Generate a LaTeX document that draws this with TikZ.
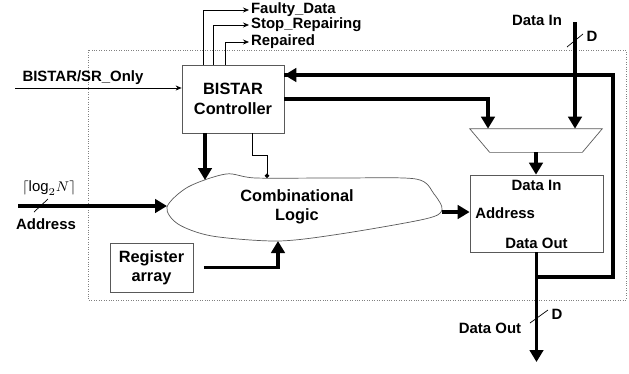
\documentclass[tikz,border=0pt]{standalone}
\usepackage{fontspec}
\setmainfont{Liberation Sans}
\usetikzlibrary{arrows.meta,positioning}

\tikzset{
	blk/.style={draw=black!65, thin, align=center, inner sep=1pt, font=\bfseries\fontsize{9.3}{11}\selectfont},
	lbl/.style={inner sep=1pt, font=\bfseries\fontsize{8.5}{9}\selectfont},
	bus/.style={line width=2.2pt, -{Triangle[length=0.24cm,width=0.27cm]}},
	busline/.style={line width=2.2pt},
	sig/.style={thin, -{Stealth[length=0.12cm,width=0.1cm]}},
	slash/.style={thin}
}

\begin{document}
\begin{tikzpicture}[x=0.02cm,y=-0.02cm]
			\useasboundingbox (0,0) rectangle (629,373);
			
			% Dotted chip boundary
			\draw[densely dotted, black!50] (88,50) rectangle (626,300);
			
			% Define the blocks
			\node[blk, minimum width=2.04cm, minimum height=1.36cm] (ctrl) at (233,99) {BISTAR\\Controller};
			\node[blk, minimum width=1.66cm, minimum height=0.98cm] (regarr) at (151.5,267.5) {Register\\array};
			\node[blk, minimum width=2.66cm, minimum height=1.54cm] (mem) at (536.5,213.5) {};
			\node[minimum width=2.64cm, minimum height=0.46cm, inner sep=0pt] (mux) at (536,140.5) {};
			\draw[black!65, thin] (mux.north west) -- (mux.north east) -- ([xshift=-0.4cm]mux.south east)
				-- ([xshift=0.4cm]mux.south west) -- cycle;
			
			% Memory ports
			\node[lbl, below=2pt of mem.north] (memdin) {Data In};
			\node[lbl, anchor=west] (memaddr) at ([xshift=2pt]mem.west) {Address};
			\node[lbl, above=1pt of mem.south] (memdout) {Data Out};
			
			% Combinational logic blob
			\draw[black!65, thin] plot[smooth cycle, tension=0.5] coordinates {(167,207) (188,187) (226,174) (256,178) (340,178) (416,179) (434,194) (442,210) (425,219) (340,234) (278,241) (212,236) (178,224)};
			\node[align=center, font=\bfseries\fontsize{9.3}{11}\selectfont] (logic) at (297,207) {Combinational\\Logic};
			\coordinate (lgin) at (167,206);
			\coordinate (lgout) at (442,212);
			\coordinate (lgtop) at (267,178);
			\coordinate (lgbot) at (278,241);
			
			% Controller status outputs
			\foreach \x/\y/\n/\t in {203/10/fd/Faulty\_Data, 213/25/sr/Stop\_Repairing, 225/42/rp/Repaired}
			{
				\node[lbl, anchor=west] (\n) at (249,\y) {\t};
				\draw[sig] (ctrl.north -| \x,0) |- (\n.west);
			}
			
			% Mode input
			\node[lbl] (srlbl) at (83,78) {BISTAR/SR\_Only};
			\coordinate (srin) at (15,88);
			\draw[sig] (srin) -- (ctrl.west |- srin);
			
			% Address input
			\node[lbl] (loglbl) at (49,188) {$\lceil\log_2\!N\rceil$};
			\node[lbl] (addrlbl) at (46,224) {Address};
			\coordinate (addrin) at (18,206);
			\draw[bus] (addrin) -- (lgin);
			\draw[slash] (34,212) -- (48,199);
			
			% Controller to logic
			\draw[bus] (ctrl.south -| 205,0) -- (205,180);
			\draw[thin, -{Circle[length=0.09cm]}] (ctrl.south -| 252,0) |- (267,155) -- (lgtop);
			
			% Register array to logic
			\draw[bus, shorten <=6pt] (regarr.east) -| (lgbot);
			
			% Logic to memory address
			\draw[bus] (lgout) -- (mem.west |- lgout);
			
			% Data in path through the mux
			\node[lbl] (din) at (537,20) {Data In};
			\coordinate (dinsrc) at (575,22);
			\draw[bus] (dinsrc) -- (dinsrc |- mux.north);
			\draw[slash] (567,47) -- (583,34);
			\node[lbl] (dinw) at (592,36) {D};
			\draw[bus] (ctrl.east) -| (mux.north -| 488,0);
			\draw[bus] (mux.south) -- (mem.north -| mux.south);
			
			% Data out and feedback to controller
			\coordinate (fbj) at (mem.south |- 0,277);
			\coordinate (fbr) at (613,277);
			\coordinate (doutend) at (mem.south |- 0,362);
			\draw[busline] (fbj) -- (fbr) |- ([yshift=0.48cm]ctrl.east);
			\draw[bus] ([yshift=0.48cm]ctrl.east -| 300,0) -- ([yshift=0.48cm]ctrl.east);
			\draw[bus] (mem.south) -- (doutend);
			\draw[slash] (530,323) -- (548,310);
			\node[lbl] (doutw) at (557,314) {D};
			\node[lbl] (dout) at (490,328) {Data Out};
		\end{tikzpicture}
\end{document}
